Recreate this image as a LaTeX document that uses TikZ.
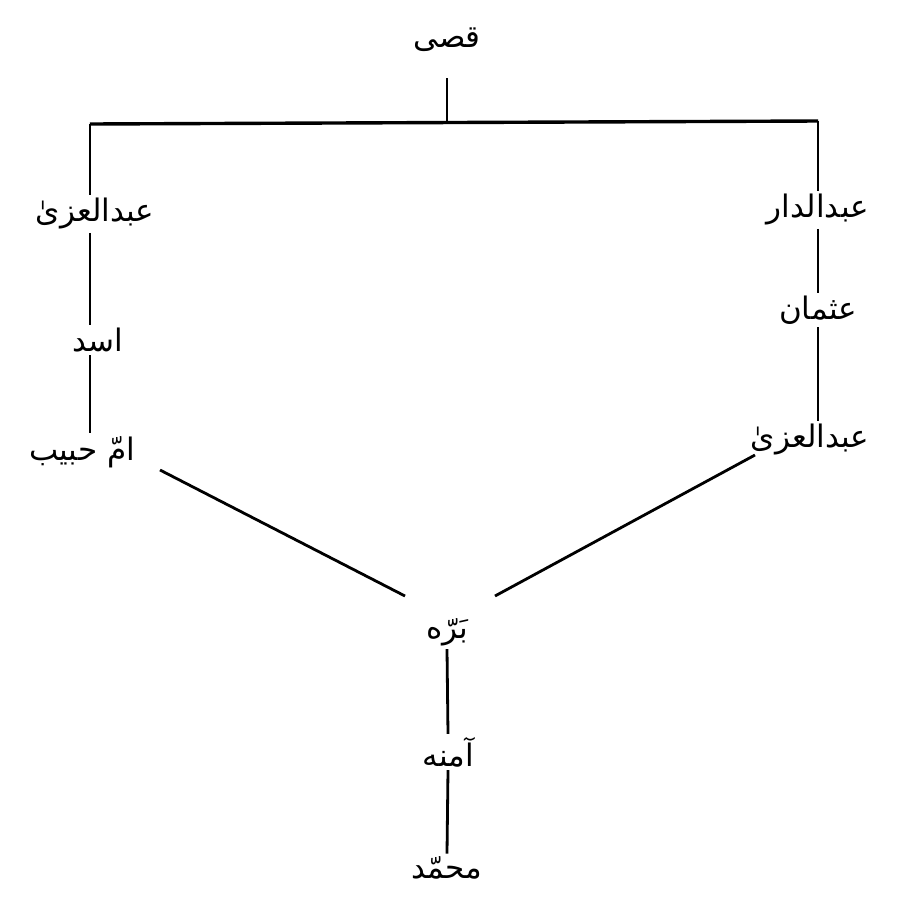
\documentclass[tikz,border=0pt]{standalone}
\usepackage{fontspec}
\TeXXeTstate=1
\newfontfamily\arabicfont[Script=Arabic]{DejaVu Sans}
\begin{document}
\begin{tikzpicture}[x=1pt,y=-1pt,
  person/.style={font=\arabicfont\fontsize{31}{35}\selectfont, inner sep=3pt},
  link/.style={line width=2.8pt, black}]
\useasboundingbox (0,0) rectangle (899,903);
\node[person] (qusay) at (447,40) {\beginR قصی\endR};
\coordinate (top) at (447,122);
\coordinate (hl) at (90,124);
\coordinate (hr) at (818,121);
\node[person] (uzza1) at (95,214) {\beginR عبدالعزیٰ\endR};
\node[person] (asad) at (98,340) {\beginR اسد\endR};
\node[person] (umm) at (82,452) {\beginR امّ حبیب\endR};
\node[person] (dar) at (818,210) {\beginR عبدالدار\endR};
\node[person] (uthman) at (818,310) {\beginR عثمان\endR};
\node[person] (uzza2) at (810,440) {\beginR عبدالعزیٰ\endR};
\node[person] (barra) at (447,632) {\beginR بَرّه\endR};
\node[person] (amina) at (448,752) {\beginR آمنه\endR};
\node[person] (muhammad) at (447,868) {\beginR محمّد\endR};
\coordinate (q1) at (447,78);
\coordinate (l1) at (160,470);
\coordinate (l2) at (405,596);
\coordinate (r1) at (755,455);
\coordinate (r2) at (495,596);
\draw[link] (q1) -- (top);
\draw[link, line width=3.4pt] (hl) -- (hr);
\draw[link] (hl) -- (uzza1.north -| hl);
\draw[link] (hr) -- (dar.north -| hr);
\draw[link] (uzza1.south -| hl) -- (asad.north -| hl);
\draw[link] (asad.south -| hl) -- (umm.north -| hl);
\draw[link] (dar.south -| hr) -- (uthman.north -| hr);
\draw[link] (uthman.south -| hr) -- (uzza2.north -| hr);
\draw[link] (l1) -- (l2);
\draw[link] (r1) -- (r2);
\draw[link] (barra.south) -- (amina.north);
\draw[link] (amina.south) -- (muhammad.north);
\end{tikzpicture}
\end{document}
